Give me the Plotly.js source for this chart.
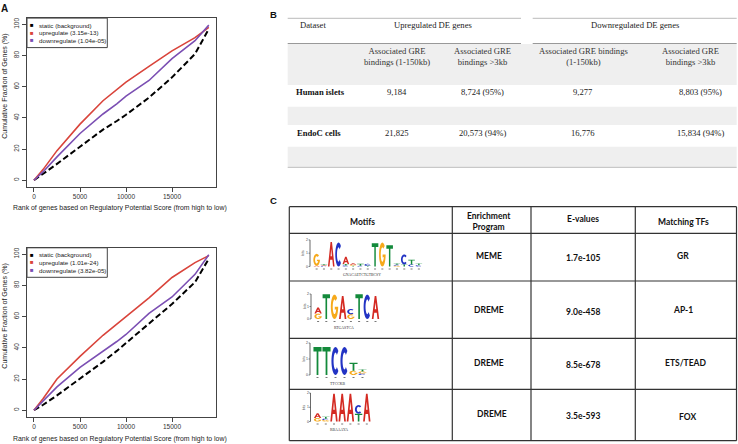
<!DOCTYPE html>
<html>
<head>
<meta charset="utf-8">
<script src="https://cdn.plot.ly/plotly-3.0.1.min.js"></script>
<style>
  html, body { margin: 0; padding: 0; background: #fff; }
  #fig { width: 738px; height: 444px; }
</style>
</head>
<body>
<div id="fig"></div>
<script>
// ---- panel A: cumulative fraction curves ----
var rankX = [0, 1000, 2500, 5000, 7500, 9000, 10000, 12500, 15000, 17500, 19000];
var topStatic = [0, 4, 10.5, 21.5, 32.5, 38, 42, 53, 66, 81, 97];
var topUp     = [0, 7, 19, 36, 51, 58, 63, 73, 83, 91.5, 98];
var topDown   = [0, 5.5, 15, 30, 42.5, 49, 54, 64, 78, 89.5, 99.5];
var botStatic = [0, 3.5, 9.5, 20, 31, 38, 43, 55, 68, 82, 97];
var botUp     = [0, 7.5, 20, 34.5, 48, 55.5, 60, 72, 85, 94.5, 99];
var botDown   = [0, 6, 15, 27.5, 37.5, 44, 48.5, 62, 72.5, 87, 99.5];
var topP = ['3.15e-13', '1.04e-05'];
var botP = ['1.01e-24', '3.82e-05'];
var xTicks = [0, 5000, 10000, 15000];
var yTicks = [0, 20, 40, 60, 80, 100];

// ---- panel B table ----
var datasets = ['Human islets', 'EndoC cells'];
var upAll = [9184, 21825];
var upFar = [8724, 20573];
var upFarPct = [95, 94];
var downAll = [9277, 16776];
var downFar = [8803, 15834];
var downFarPct = [95, 94];

// ---- panel C table ----
var programs = ['MEME', 'DREME', 'DREME', 'DREME'];
var evalues = ['1.7e-105', '9.0e-458', '8.5e-678', '3.5e-593'];
var matchTFs = ['GR', 'AP-1', 'ETS/TEAD', 'FOX'];
var consensus = ['GNACAETCTGTBCSY', 'RTGASTCA', 'TTCCKB', 'RBAAAYA'];
// motif columns, letters stacked bottom to top, heights in bits
var logoGR = [
  [['A', 0.05], ['G', 0.9]],
  [['C', 0.04], ['A', 0.05], ['T', 0.07]],
  [['A', 1.85]],
  [['C', 1.8]],
  [['C', 0.08], ['T', 0.1], ['A', 0.55]],
  [['T', 0.06], ['G', 0.08], ['A', 0.1]],
  [['C', 0.05], ['T', 0.15]],
  [['T', 0.05], ['C', 0.15]],
  [['T', 1.75]],
  [['G', 1.8]],
  [['T', 1.6]],
  [['G', 0.06], ['C', 0.07], ['T', 0.09]],
  [['T', 0.15], ['C', 0.75]],
  [['C', 0.15], ['T', 0.35]],
  [['C', 0.1], ['T', 0.12]]
];
var logoAP1 = [
  [['G', 0.43], ['A', 0.5]],
  [['T', 1.98]],
  [['G', 1.95]],
  [['A', 1.85]],
  [['G', 0.38], ['C', 0.42]],
  [['T', 1.98]],
  [['C', 1.95]],
  [['A', 1.85]]
];
var logoTEAD = [
  [['T', 1.75]],
  [['T', 1.75]],
  [['C', 1.75]],
  [['C', 1.75]],
  [['G', 0.27], ['T', 0.5]],
  [['C', 0.1], ['G', 0.12], ['T', 0.12]]
];
var logoFOX = [
  [['G', 0.25], ['A', 0.33]],
  [['G', 0.1], ['C', 0.1], ['T', 0.13]],
  [['A', 1.95]],
  [['A', 1.95]],
  [['A', 1.95]],
  [['T', 0.55], ['C', 0.6]],
  [['A', 1.95]]
];

var W = 738, H = 444;
function px(x) { return x / W; }
function py(y) { return 1 - y / H; }

var shapes = [];
var annotations = [];
var sans = 'Liberation Sans, Arial, sans-serif';
var serif = 'Liberation Serif, Times New Roman, serif';
var calib = 'Lato, Liberation Sans, sans-serif';

function txt(x, y, text, size, opt) {
  opt = opt || {};
  annotations.push({
    xref: 'paper', yref: 'paper', x: px(x), y: py(y), text: text, showarrow: false,
    xanchor: opt.anchor || 'center', yanchor: 'middle', textangle: opt.angle || 0,
    align: opt.align || 'center',
    font: {family: opt.family || sans, size: size, color: opt.color || '#222'}
  });
}
function seg(x0, y0, x1, y1, color, w) {
  shapes.push({type: 'line', xref: 'paper', yref: 'paper',
    x0: px(x0), y0: py(y0), x1: px(x1), y1: py(y1), line: {color: color, width: w}});
}
function rect(x0, y0, x1, y1, fill, line, w) {
  shapes.push({type: 'rect', xref: 'paper', yref: 'paper', layer: 'below',
    x0: px(x0), y0: py(y0), x1: px(x1), y1: py(y1),
    fillcolor: fill, line: {color: line || fill, width: w || 0}});
}

// ---- curves ----
var red = '#d9443b', purple = '#7b4fb3';
function curve(y, color, dash, ax) {
  return {
    x: rankX, y: y, type: 'scatter', mode: 'lines', xaxis: 'x' + ax, yaxis: 'y' + ax,
    line: {color: color, width: dash ? 2 : 1.6, dash: dash ? '6px,3px' : 'solid'},
    hoverinfo: 'skip', showlegend: false
  };
}
var data = [
  curve(topStatic, '#000', true, ''), curve(topUp, red, false, ''), curve(topDown, purple, false, ''),
  curve(botStatic, '#000', true, '2'), curve(botUp, red, false, '2'), curve(botDown, purple, false, '2')
];

function rAxis(dom, rng, ticks, anchor, isY) {
  return {
    domain: dom, range: rng, tickvals: ticks, anchor: anchor, tickformat: 'd',
    ticks: 'outside', ticklen: 4, tickwidth: 1, tickcolor: '#444',
    showline: true, mirror: true, linecolor: '#444', linewidth: 1,
    showgrid: false, zeroline: false, fixedrange: true,
    tickangle: isY ? -90 : 0,
    tickfont: {family: sans, size: 6.5, color: '#333'}
  };
}

// legends and titles of the two plots
function plotDecor(top, bottom, pv) {
  rect(27, top, 107.3, top + 29.5, '#fff', '#444', 1);
  var names = ['static (background)', 'upregulate (' + pv[0] + ')', 'downregulate (' + pv[1] + ')'];
  var cols = ['#000', red, purple];
  for (var i = 0; i < 3; i++) {
    var yy = top + 7 + i * 7.6;
    txt(31.7, yy, '■', 6, {color: cols[i]});
    txt(37.2, yy, names[i], 6.2, {anchor: 'left', color: '#222'});
  }
  txt(5, (top + bottom) / 2 - 15.5, 'Cumulative Fraction of Genes (%)', 7, {angle: -90, color: '#222'});
  txt(120, bottom + 22, 'Rank of genes based on Regulatory Potential Score (from high to low)', 6.9, {color: '#222'});
}
plotDecor(18.1, 186.5, topP);
plotDecor(247.8, 416.5, botP);
txt(4.5, 8, '<b>A</b>', 10, {color: '#111'});

// ---- panel B ----
txt(273.5, 14.5, '<b>B</b>', 9.5, {color: '#111'});
function fmt(n) { return n.toLocaleString('en-US'); }
seg(287.7, 18.3, 521, 18.3, '#bbb', 1);
seg(532.7, 18.3, 736.7, 18.3, '#bbb', 1);
seg(287.7, 43.5, 521, 43.5, '#999', 1);
seg(532.7, 43.5, 736.7, 43.5, '#999', 1);
rect(287.7, 44, 736.7, 85, '#efefef');
rect(287.7, 106.7, 736.7, 125, '#efefef');
rect(287.7, 146.7, 736.7, 166.7, '#efefef');
seg(287.7, 167.3, 736.7, 167.3, '#bbb', 1);
var colB = [397, 483, 583, 700];
txt(313, 25, 'Dataset', 8.6, {family: serif});
txt(433, 25, 'Upregulated DE genes', 8.6, {family: serif});
txt(635, 25, 'Downregulated DE genes', 8.6, {family: serif});
txt(colB[0], 56, 'Associated GRE<br>bindings (1-150kb)', 8.6, {family: serif, color: '#333'});
txt(colB[1], 56, 'Associated GRE<br>bindings >3kb', 8.6, {family: serif, color: '#333'});
txt(colB[2], 56, 'Associated GRE bindings<br>(1-150kb)', 8.6, {family: serif, color: '#333'});
txt(colB[3] - 10, 56, 'Associated GRE<br>bindings >3kb', 8.6, {family: serif, color: '#333'});
var rowB = [92, 133];
for (var r = 0; r < datasets.length; r++) {
  txt(293.5 + r * 1.5, rowB[r], '<b>' + datasets[r] + '</b>', 8.6, {family: serif, anchor: 'left', color: '#111'});
  txt(colB[0], rowB[r], fmt(upAll[r]), 8.6, {family: serif});
  txt(colB[1], rowB[r], fmt(upFar[r]) + ' (' + upFarPct[r] + '%)', 8.6, {family: serif});
  txt(colB[2], rowB[r], fmt(downAll[r]), 8.6, {family: serif});
  txt(colB[3], rowB[r], fmt(downFar[r]) + ' (' + downFarPct[r] + '%)', 8.6, {family: serif});
}

// ---- panel C ----
txt(273.7, 200.5, '<b>C</b>', 9.5, {color: '#111'});
var gridC = '#333';
seg(289.3, 206.7, 736.5, 206.7, gridC, 1.2);
seg(289.3, 440.7, 736.5, 440.7, gridC, 1.2);
[289.3, 452.3, 531, 635.3, 736.5].forEach(function (x) { seg(x, 206.7, x, 440.7, gridC, 1.2); });
[233.3, 281, 338.3, 389.3].forEach(function (y) { seg(289.3, y, 736.5, y, gridC, 1.2); });
txt(362.7, 221.7, '<b>Motifs</b>', 8.5, {family: calib, color: '#111'});
txt(489, 221.8, '<b>Enrichment<br>Program</b>', 8.5, {family: calib, color: '#111'});
txt(583, 219, '<b>E-values</b>', 8.5, {family: calib, color: '#111'});
txt(683, 221.7, '<b>Matching TFs</b>', 8.5, {family: calib, color: '#111'});
var rowC = [256, 310, 363, 414];
for (var k = 0; k < programs.length; k++) {
  txt(489 + (k === 3 ? 2.5 : 0), rowC[k], '<b>' + programs[k] + '</b>', 8.5, {family: calib, color: '#111'});
  txt(583, rowC[k] + 1.5, '<b>' + evalues[k] + '</b>', 8.5, {family: calib, color: '#111'});
  txt(683 + (k === 2 ? 2 : k === 3 ? 4.5 : 0), rowC[k] + (k === 3 ? 2.5 : 0), '<b>' + matchTFs[k] + '</b>', 8.5, {family: calib, color: '#111'});
}

// letter glyphs in a unit box (y up)
function pt(a, rx, ry) { var r = a * Math.PI / 180; return [0.5 + rx * Math.cos(r), 0.5 + ry * Math.sin(r)]; }
function cPoly() {
  var out = [], inn = [];
  for (var a = 45; a <= 315; a += 9) { out.push(pt(a, 0.5, 0.5)); inn.unshift(pt(a, 0.24, 0.3)); }
  return out.concat(inn);
}
function gPoly() {
  var out = [], inn = [];
  for (var a = 45; a <= 360; a += 9) out.push(pt(a, 0.5, 0.5));
  for (var b = 340; b >= 45; b -= 9) inn.push(pt(b, 0.24, 0.3));
  return out.concat([[1, 0.5], [0.54, 0.5], [0.54, 0.38]]).concat(inn);
}
var glyphs = {
  T: [[[0, 1], [1, 1], [1, 0.84], [0.61, 0.84], [0.61, 0], [0.39, 0], [0.39, 0.84], [0, 0.84]]],
  A: [[[0, 0], [0.39, 1], [0.61, 1], [1, 0], [0.77, 0], [0.67, 0.27], [0.33, 0.27], [0.23, 0]],
      [[0.4, 0.42], [0.6, 0.42], [0.5, 0.72]]],
  C: [cPoly()],
  G: [gPoly()]
};
var letterColor = {A: '#d42a22', C: '#2233c4', G: '#f6a91b', T: '#138a3b'};

function drawLogo(cols, x0, base, colW, bitPx, label) {
  var ax = x0 - 3;
  seg(ax, base, ax, base - 2 * bitPx, '#444', 0.8);
  for (var b = 0; b <= 2; b++) {
    seg(ax - 1.5, base - b * bitPx, ax, base - b * bitPx, '#444', 0.6);
    txt(ax - 3, base - b * bitPx, String(b), 3.5, {color: '#444'});
  }
  txt(ax - 6.5, base - bitPx, 'bits', 3.5, {angle: -90, color: '#444'});
  cols.forEach(function (col, i) {
    var cx = x0 + i * colW;
    var ycur = base;
    col.forEach(function (p) {
      var hp = p[1] * bitPx;
      var bx = cx + 0.05 * colW, bw = 0.9 * colW;
      var d = glyphs[p[0]].map(function (poly) {
        return 'M' + poly.map(function (q) {
          return px(bx + q[0] * bw).toFixed(5) + ',' + py(ycur - q[1] * hp).toFixed(5);
        }).join('L') + 'Z';
      }).join('');
      shapes.push({type: 'path', xref: 'paper', yref: 'paper', path: d,
        fillcolor: letterColor[p[0]], line: {width: 0}});
      ycur -= hp;
    });
    seg(cx + colW / 2 - 1, base + 2.5, cx + colW / 2 + 1, base + 2.5, '#555', 0.8);
  });
  txt(x0 + cols.length * colW * 0.45, base + 8.5, label, 3.8, {family: serif, color: '#333'});
}
drawLogo(logoGR, 313, 266.5, 7.3, 13.3, consensus[0]);
drawLogo(logoAP1, 314, 319, 8.2, 12.5, consensus[1]);
drawLogo(logoTEAD, 313, 375, 9, 16, consensus[2]);
drawLogo(logoFOX, 313.5, 421.5, 8.2, 14.25, consensus[3]);

var layout = {
  width: W, height: H, autosize: false,
  margin: {l: 0, r: 0, t: 0, b: 0},
  paper_bgcolor: '#fff', plot_bgcolor: '#fff',
  showlegend: false,
  xaxis: rAxis([px(27), px(215.8)], [-760, 19760], xTicks, 'y', false),
  yaxis: rAxis([py(186.5), py(18.1)], [-4, 104], yTicks, 'x', true),
  xaxis2: rAxis([px(27), px(215.8)], [-760, 19760], xTicks, 'y2', false),
  yaxis2: rAxis([py(416.5), py(247.8)], [-4, 104], yTicks, 'x2', true),
  shapes: shapes,
  annotations: annotations
};

Plotly.newPlot('fig', data, layout, {displayModeBar: false, staticPlot: true});
</script>
</body>
</html>
